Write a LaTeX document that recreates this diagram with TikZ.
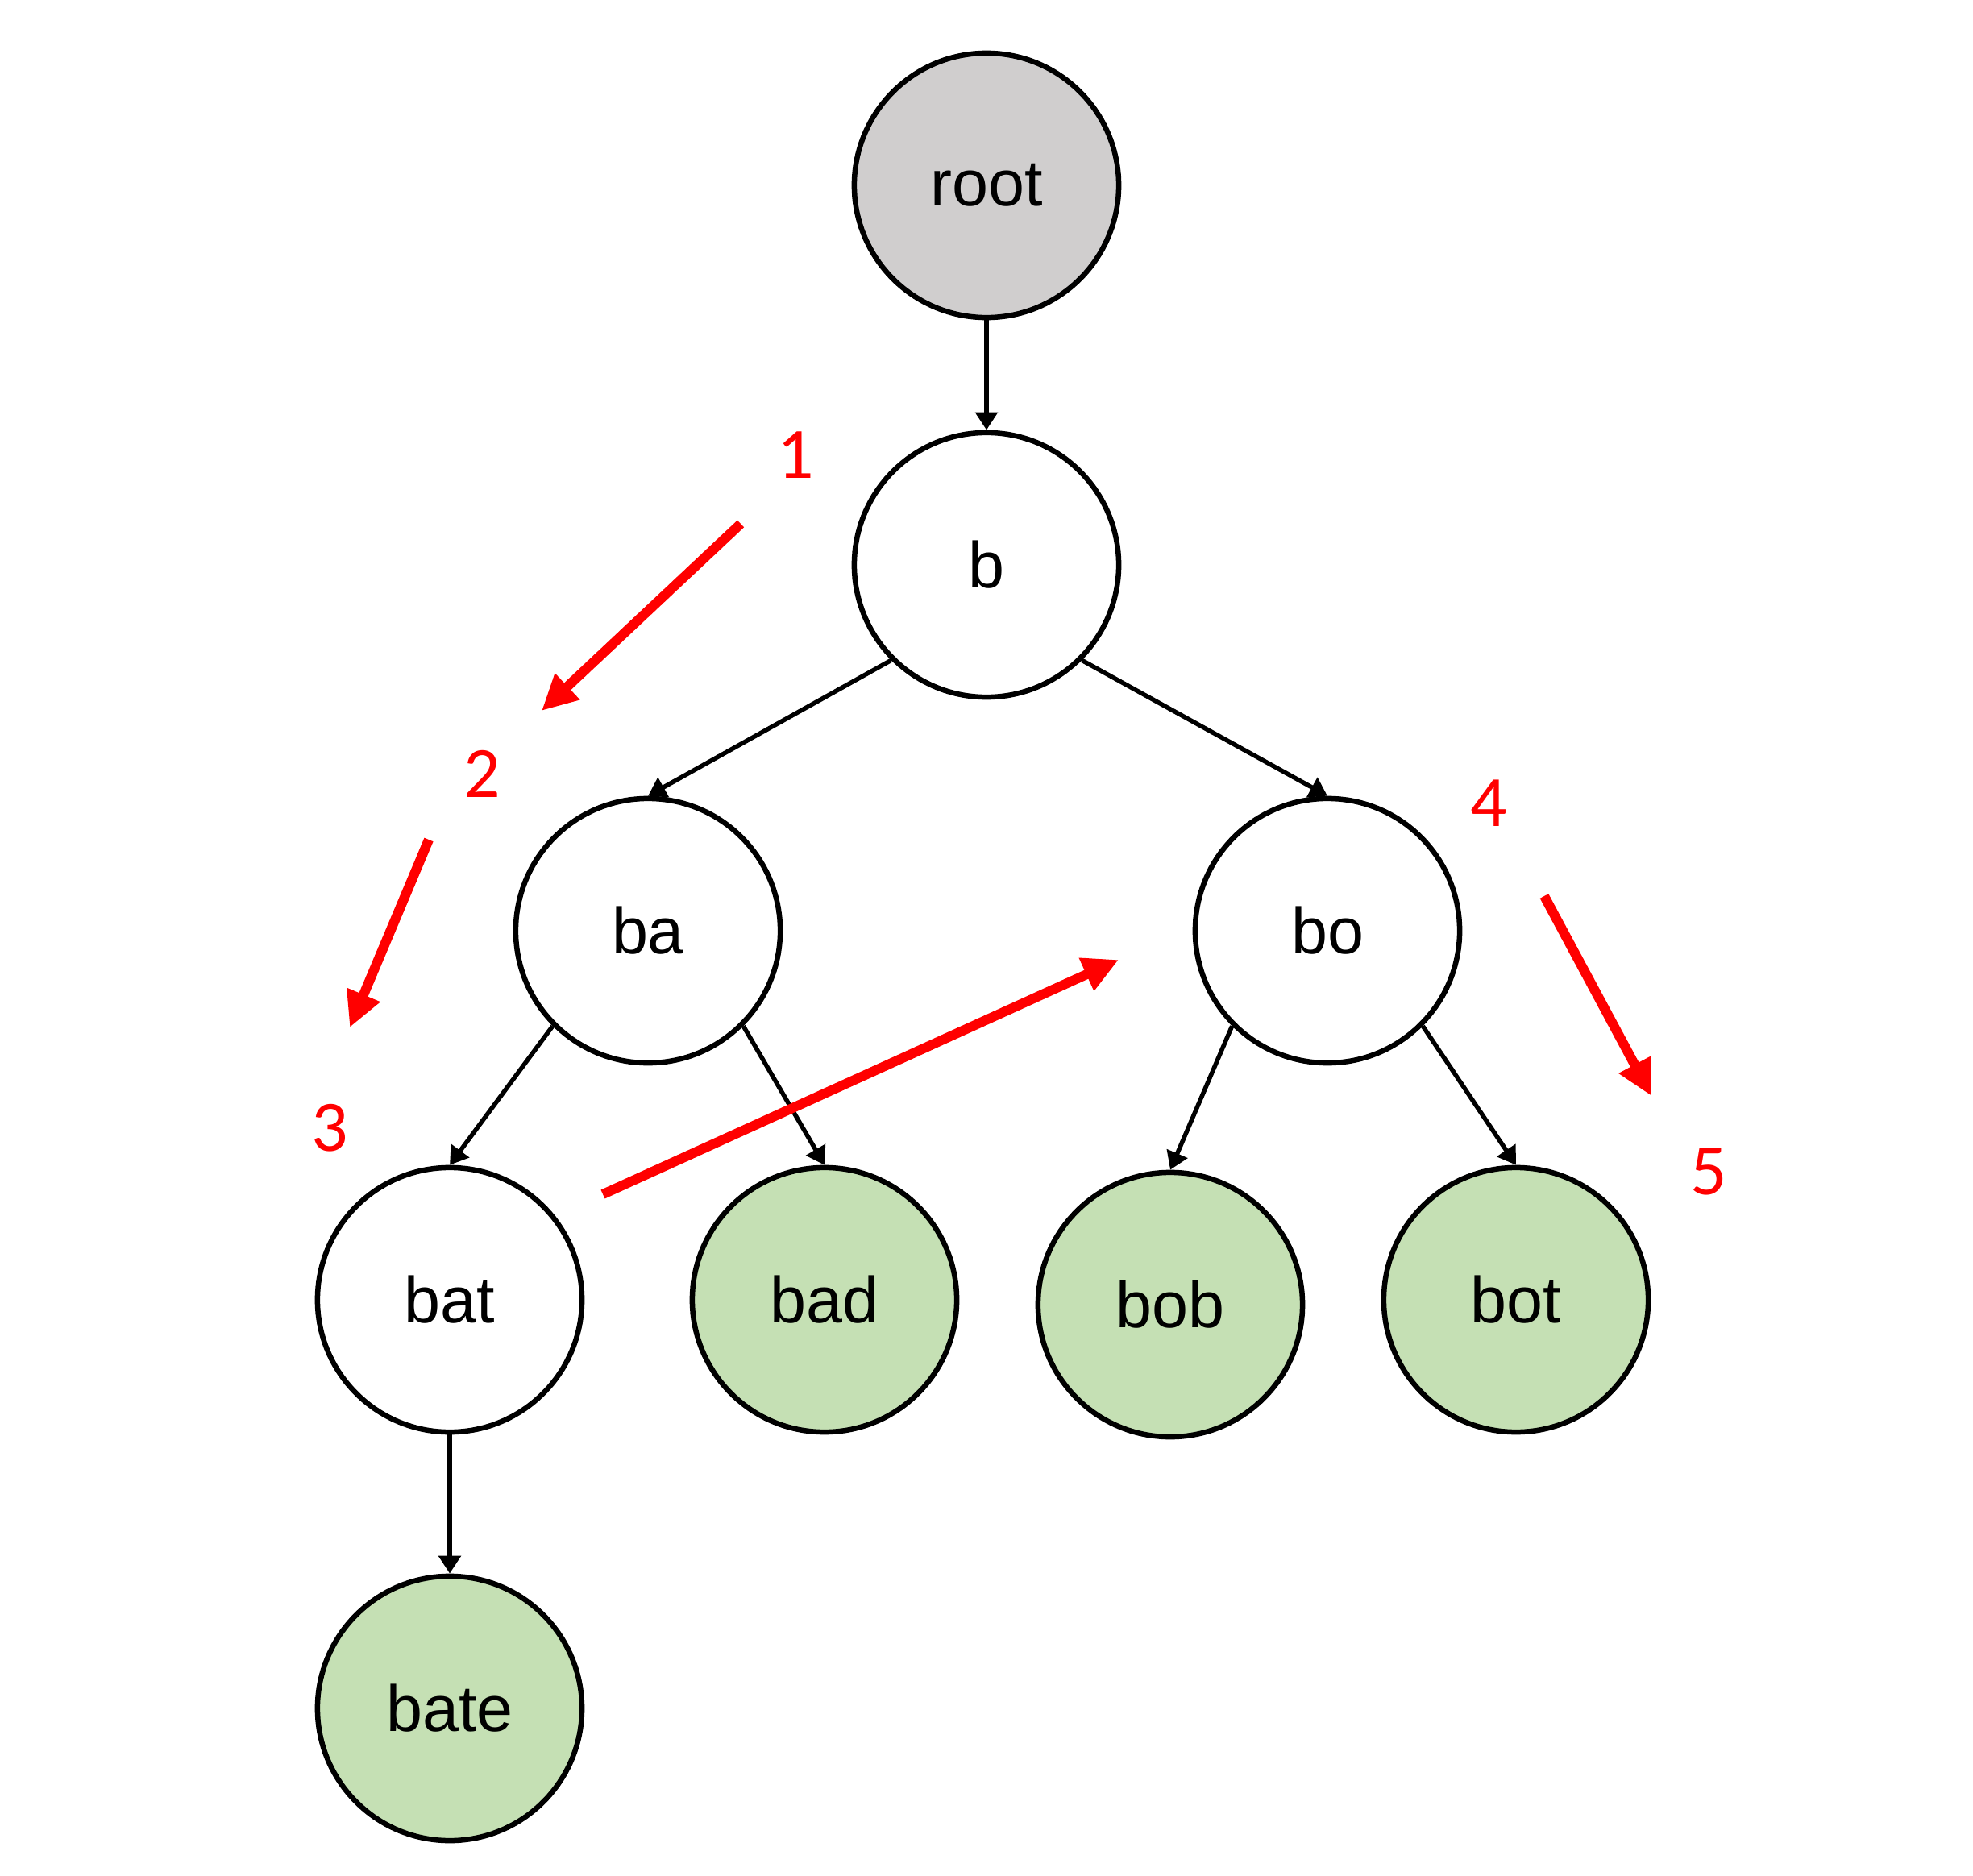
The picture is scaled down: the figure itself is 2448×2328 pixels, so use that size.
\documentclass[tikz,border=0pt]{standalone}
\usepackage{fontspec}
\setmainfont{Liberation Sans}
\newfontfamily\numfont{Carlito}
\usetikzlibrary{arrows.meta}
\definecolor{rootgray}{HTML}{D0CECE}
\definecolor{leafgreen}{HTML}{C5E0B4}
\definecolor{markred}{HTML}{FF0000}
\tikzset{
  trienode/.style={circle, draw=black, line width=0.065cm, minimum size=3.28cm, inner sep=0pt,
    font=\fontsize{23}{27}\selectfont, fill=white},
  rootnode/.style={trienode, fill=rootgray},
  leafnode/.style={trienode, fill=leafgreen},
  edge/.style={draw=black, line width=0.055cm, -{Triangle[length=0.22cm, width=0.27cm]}},
  redarrow/.style={draw=markred, line width=0.12cm, -{Triangle[length=0.44cm, width=0.42cm]}},
  stepnum/.style={text=markred, font=\numfont\fontsize{25.5}{30}\selectfont, inner sep=0pt}
}
\begin{document}
\begin{tikzpicture}[x=0.01cm, y=-0.01cm]
\useasboundingbox (0,0) rectangle (2448,2328);
% nodes
\node[rootnode] (root) at (1224,230) {root};
\node[trienode] (b) at (1224,701) {b};
\node[trienode] (ba) at (804,1155) {ba};
\node[trienode] (bo) at (1647,1155) {bo};
\node[trienode] (bat) at (558,1613) {bat};
\node[leafnode] (bad) at (1023,1613) {bad};
\node[leafnode] (bob) at (1452,1619) {bob};
\node[leafnode] (bot) at (1881,1613) {bot};
\node[leafnode] (bate) at (558,2120) {bate};
% edges
\draw[edge] (root.south) -- (b.north);
\draw[edge] (b.-135) -- (ba.north);
\draw[edge] (b.-45) -- (bo.north);
\draw[edge] (ba.-135) -- (bat.north);
\draw[edge] (ba.-45) -- (bad.north);
\draw[edge] (bo.-135) -- (bob.north);
\draw[edge] (bo.-45) -- (bot.north);
\draw[edge] (bat.south) -- (bate.north);
% step numbers
\node[stepnum] (n1) at (987,565) {1};
\node[stepnum] (n2) at (598,960) {2};
\node[stepnum] (n3) at (409,1400) {3};
\node[stepnum] (n4) at (1847,997) {4};
\node[stepnum] (n5) at (2120,1454) {5};
% red traversal arrows
\coordinate (a1s) at (919,650);
\coordinate (a1e) at (672,882);
\coordinate (a2s) at (532,1042);
\coordinate (a2e) at (434,1275);
\coordinate (a3s) at (748,1482);
\coordinate (a3e) at (1388,1191);
\coordinate (a4s) at (1916,1112);
\coordinate (a4e) at (2049,1360);
\draw[redarrow] (a1s) -- (a1e);
\draw[redarrow] (a2s) -- (a2e);
\draw[redarrow] (a3s) -- (a3e);
\draw[redarrow] (a4s) -- (a4e);
\end{tikzpicture}
\end{document}
